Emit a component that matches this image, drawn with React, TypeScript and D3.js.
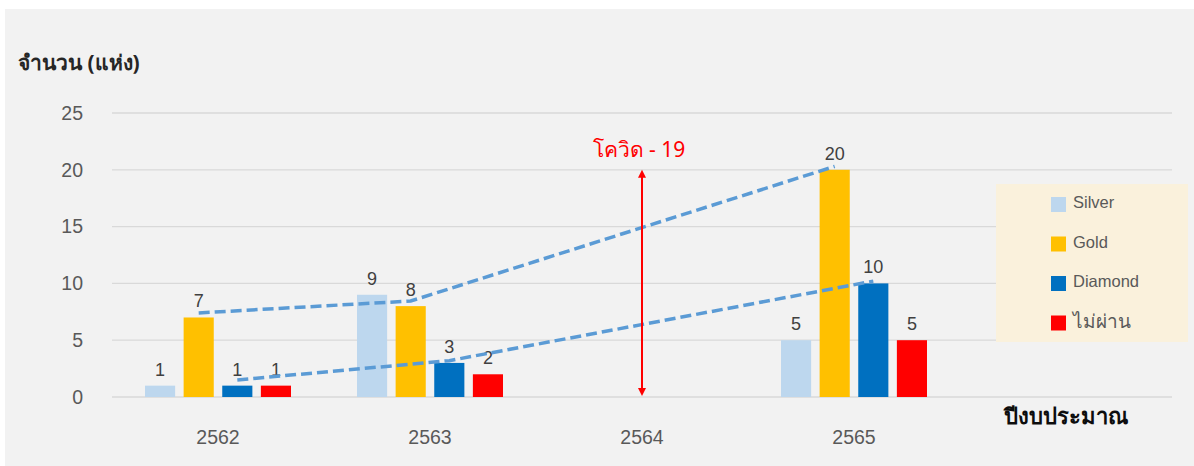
import React from "react";
import * as d3 from "d3";

const categories = ["2562", "2563", "2564", "2565", ""];
const seriesNames = ["Silver", "Gold", "Diamond", "ไม่ผ่าน"];
const silver = [1, 9, 0, 5];
const gold = [7, 8, 0, 20];
const diamond = [1, 3, 0, 10];
const fail = [1, 2, 0, 5];
const colors = ["#bdd7ee", "#ffc000", "#0070c0", "#ff0000"];
const yTicks = [0, 5, 10, 15, 20, 25];
// trend lines: [categoryIndex, seriesIndex, value]
const trendGold: [number, number, number][] = [[0, 1, 7.4], [1, 1, 8.45], [3, 1, 20.3]];
const trendDiamond: [number, number, number][] = [[0, 2, 1.5], [1, 2, 3.2], [3, 2, 10.2]];

const W = 1194, H = 466;
const plotLeft = 112, plotRight = 1172, y0px = 397, y25px = 113;

export default function App() {
  React.useEffect(() => {
    document.body.style.margin = "0";
  }, []);
  const seriesValues = [silver, gold, diamond, fail];
  const x0 = d3.scaleBand<string>().domain(categories.map((c, i) => String(i))).range([plotLeft, plotRight]).padding(0);
  const x1 = d3.scaleBand<string>().domain(seriesNames).range([-73, 73]).paddingInner(0.22).paddingOuter(0);
  const y = d3.scaleLinear().domain([0, 25]).range([y0px, y25px]);
  const cx = (ci: number) => (x0(String(ci)) as number) + x0.bandwidth() / 2;
  const barCenter = (ci: number, si: number) => cx(ci) + (x1(seriesNames[si]) as number) + x1.bandwidth() / 2;
  const line = d3.line<[number, number, number]>().x(d => barCenter(d[0], d[1])).y(d => y(d[2]));
  const font = "Arial, 'Liberation Sans', 'Noto Sans', sans-serif";
  const thaiFont = "Tahoma, 'Noto Sans', 'DejaVu Sans', sans-serif";
  const covidX = cx(2);
  const legendRows = [204.5, 244, 283.5, 323];
  return (
    <svg width={W} height={H} style={{ display: "block", position: "absolute", left: 0, top: 0 }}>
      <rect x={5} y={9} width={W - 5} height={H - 9} fill="#f2f2f2" />
      {yTicks.map(t => (
        <g key={t}>
          <line x1={plotLeft} x2={plotRight} y1={y(t)} y2={y(t)} stroke="#d9d9d9" strokeWidth={1.3} />
          <text x={83} y={y(t)} dy="0.35em" textAnchor="end" fontSize={19.5} fill="#595959" fontFamily={font}>{t}</text>
        </g>
      ))}
      {categories.map((c, i) => (
        <text key={i} x={cx(i)} y={437} dy="0.35em" textAnchor="middle" fontSize={19.5} fill="#595959" fontFamily={font}>{c}</text>
      ))}
      {seriesValues.map((vals, si) =>
        vals.map((v, ci) => v > 0 ? (
          <g key={`${si}-${ci}`}>
            <rect x={barCenter(ci, si) - x1.bandwidth() / 2} y={y(v)} width={x1.bandwidth()} height={y(0) - y(v)} fill={colors[si]} />
            <text x={barCenter(ci, si)} y={y(v) - 10} textAnchor="middle" fontSize={18} fill="#404040" fontFamily={font}>{v}</text>
          </g>
        ) : null)
      )}
      <path d={line(trendGold) || ""} fill="none" stroke="#5b9bd5" strokeWidth={3.5} strokeDasharray="11,5" />
      <path d={line(trendDiamond) || ""} fill="none" stroke="#5b9bd5" strokeWidth={3.5} strokeDasharray="11,5" />
      {/* covid arrow */}
      <line x1={covidX} x2={covidX} y1={y(20) + 6} y2={y(0) - 6} stroke="#ff0000" strokeWidth={2} />
      <path d={`M${covidX},${y(20)} l-4,8 l8,0 z`} fill="#ff0000" />
      <path d={`M${covidX},${y(0) - 1} l-4,-8 l8,0 z`} fill="#ff0000" />
      <text x={covidX - 3} y={157} textAnchor="middle" fontSize={21} fill="#ff0000" fontFamily={thaiFont}>โควิด - 19</text>
      {/* axis titles */}
      <text x={18} y={70} fontSize={21} fill="#262626" fontWeight="bold" fontFamily={thaiFont}>จำนวน (แห่ง)</text>
      <text x={1004} y={424} fontSize={22} fill="#0d0d0d" fontWeight="bold" fontFamily={thaiFont}>ปีงบประมาณ</text>
      {/* legend */}
      <rect x={996} y={184} width={192} height={158} fill="#faf1dc" />
      {seriesNames.map((s, i) => (
        <g key={s}>
          <rect x={1051} y={legendRows[i] - 7.5} width={15} height={15} fill={colors[i]} />
          <text x={1073} y={legendRows[i] - 2} dy="0.35em" fontSize={i === 3 ? 19 : 16.5} fill="#595959" fontFamily={i === 3 ? thaiFont : font}>{s}</text>
        </g>
      ))}
    </svg>
  );
}
